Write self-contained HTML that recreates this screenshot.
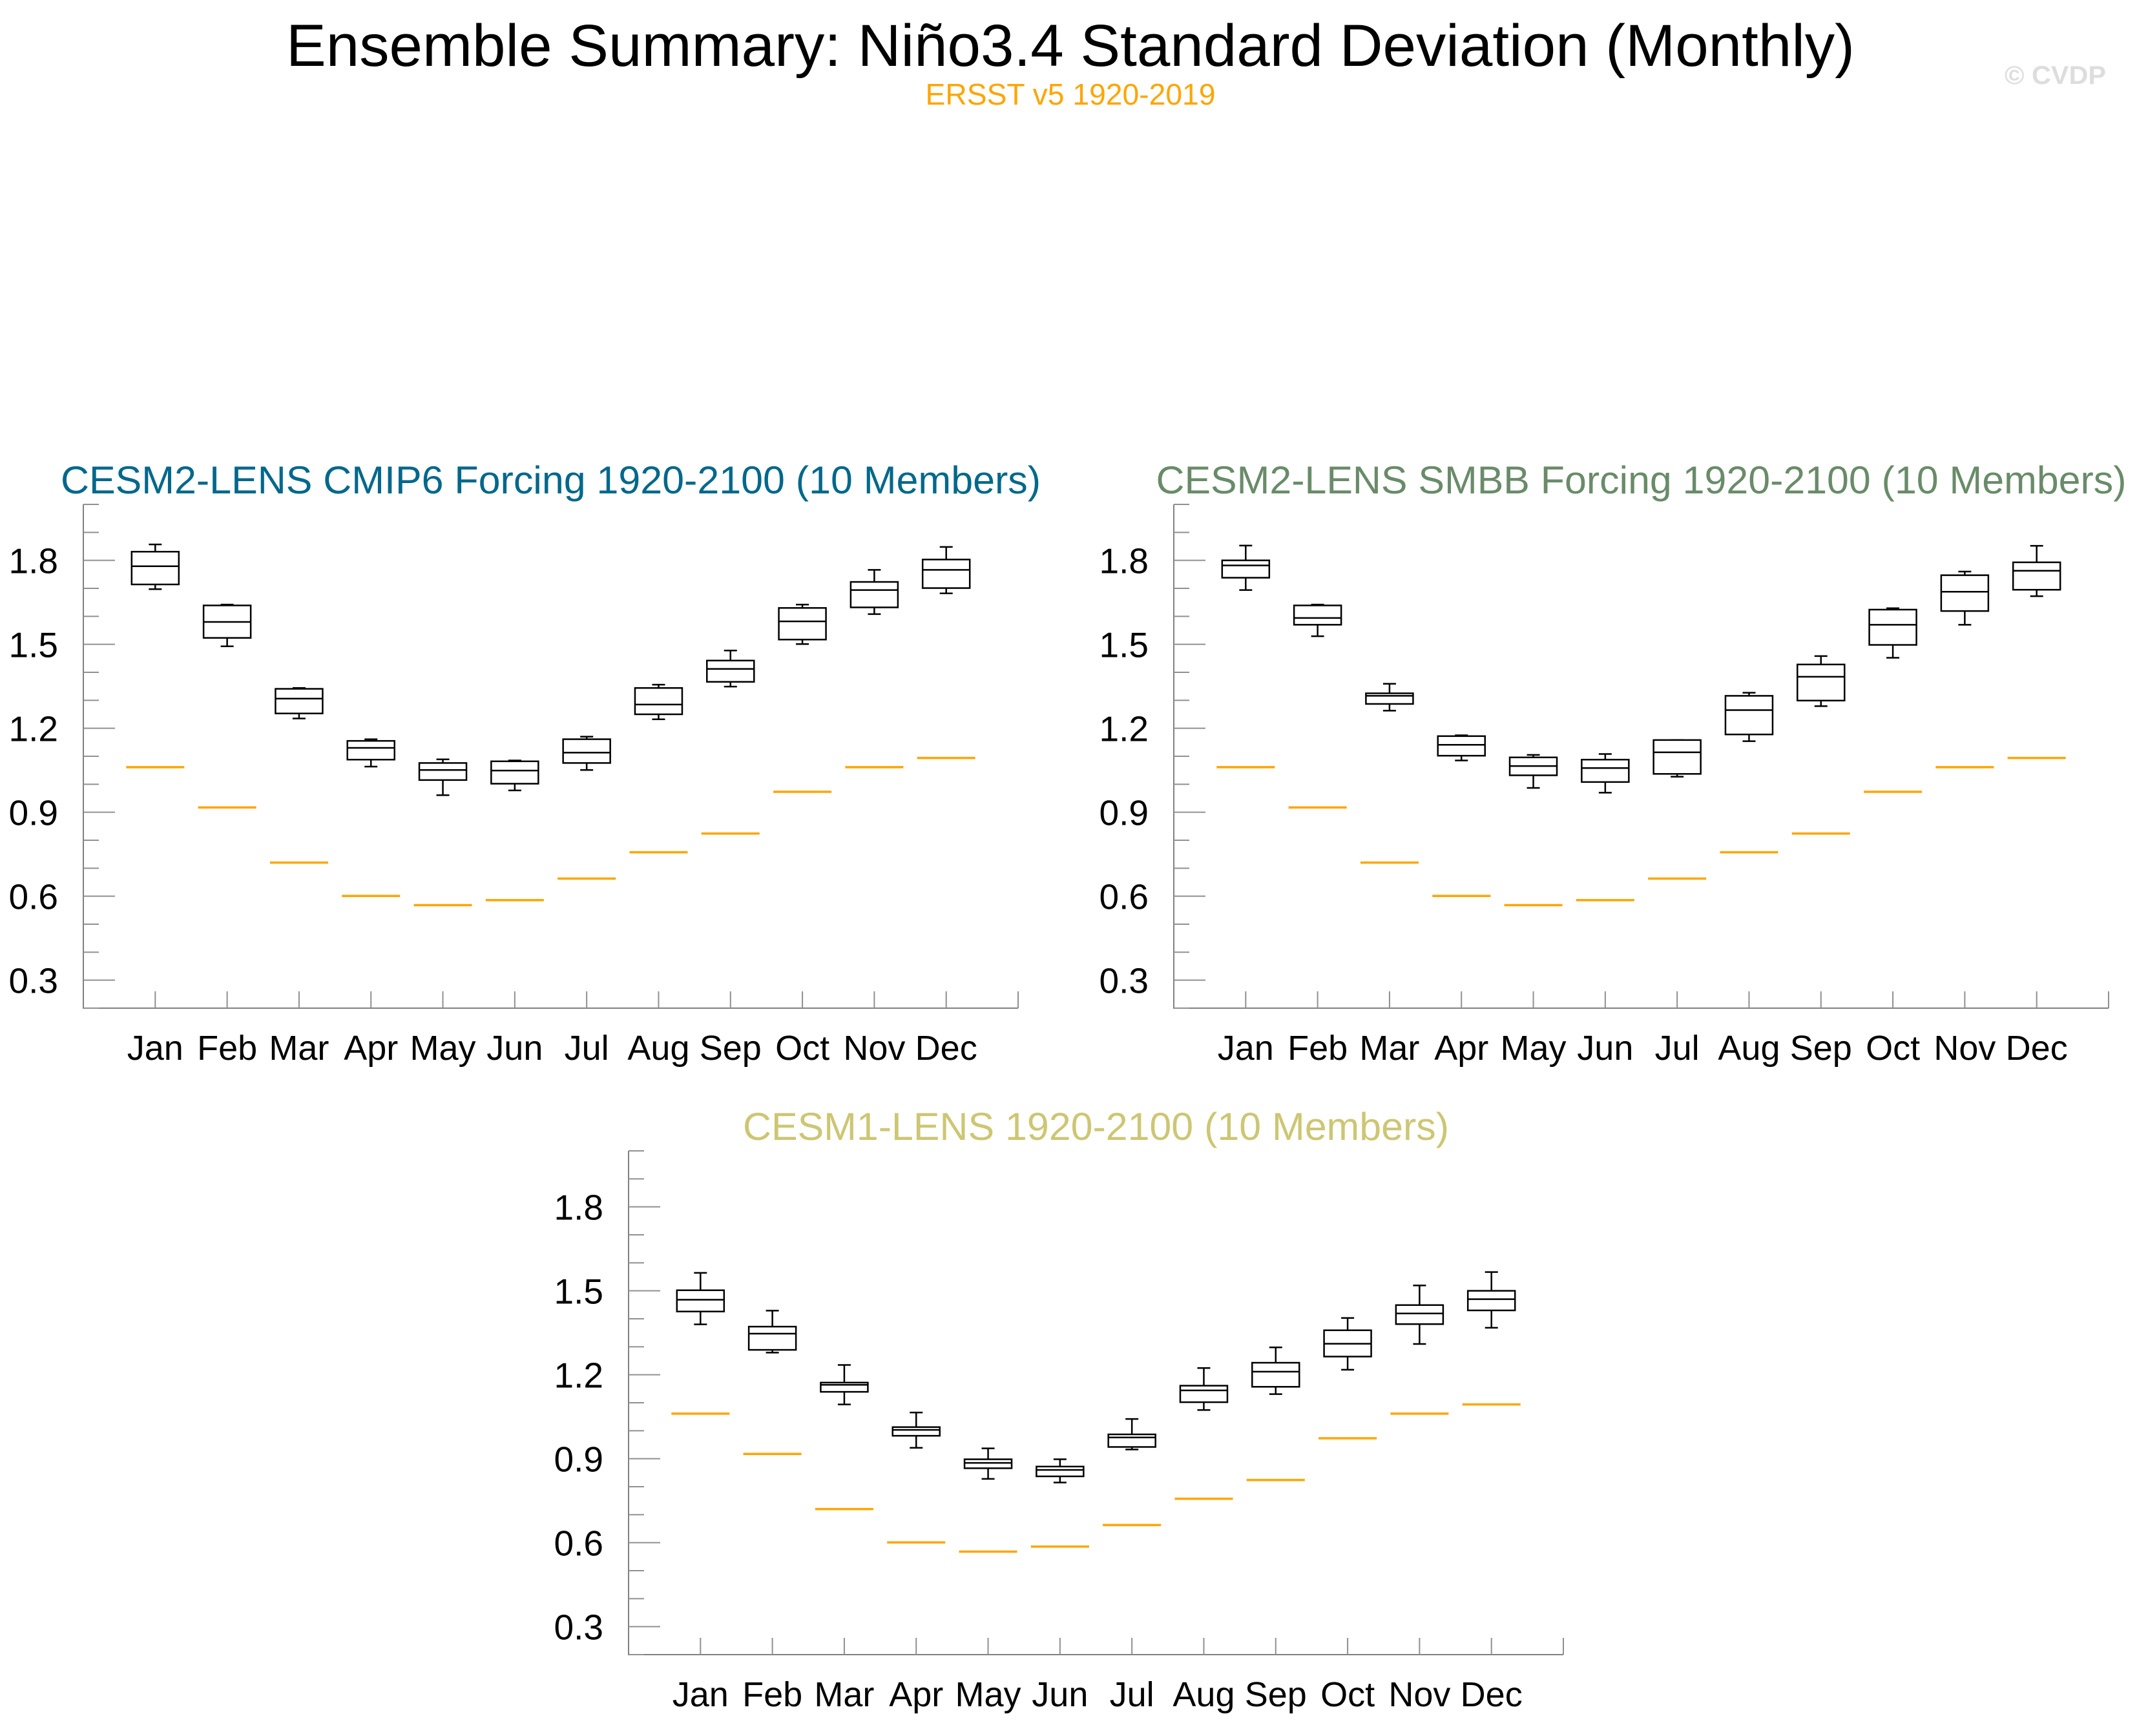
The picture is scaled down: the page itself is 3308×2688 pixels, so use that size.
<!DOCTYPE html>
<html><head><meta charset="utf-8"><style>
html,body{margin:0;padding:0;background:#fff;}
svg{display:block;font-family:"Liberation Sans",sans-serif;}
</style></head><body>
<svg id="fig" width="3308" height="2688" viewBox="0 0 3308 2688" xmlns="http://www.w3.org/2000/svg">
<text x="1657" y="102" font-size="92" text-anchor="middle" textLength="2428" lengthAdjust="spacingAndGlyphs" fill="#000">Ensemble Summary: Niño3.4 Standard Deviation (Monthly)</text>
<text x="1657" y="162" font-size="46" text-anchor="middle" textLength="449" lengthAdjust="spacingAndGlyphs" fill="#FFA500">ERSST v5 1920-2019</text>
<text x="3260" y="130" font-size="40" font-weight="bold" text-anchor="end" textLength="157" lengthAdjust="spacingAndGlyphs" fill="#dddddd">© CVDP</text>
</svg>
<script>
const months = ["Jan","Feb","Mar","Apr","May","Jun","Jul","Aug","Sep","Oct","Nov","Dec"];
const yTicks = [0.3,0.6,0.9,1.2,1.5,1.8];
const yTickLabels = ["0.3","0.6","0.9","1.2","1.5","1.8"];
const obsValues = [1.061,0.917,0.720,0.601,0.568,0.586,0.663,0.757,0.824,0.973,1.061,1.094];
const cmip6Max = [1.857,1.642,1.344,1.161,1.089,1.085,1.170,1.356,1.478,1.642,1.766,1.848];
const cmip6Q3  = [1.831,1.639,1.341,1.155,1.076,1.082,1.161,1.344,1.442,1.630,1.723,1.803];
const cmip6Med = [1.779,1.580,1.306,1.130,1.051,1.049,1.113,1.285,1.412,1.582,1.694,1.766];
const cmip6Q1  = [1.714,1.523,1.253,1.088,1.015,1.002,1.076,1.250,1.366,1.517,1.632,1.701];
const cmip6Min = [1.697,1.493,1.235,1.063,0.961,0.978,1.051,1.232,1.349,1.501,1.608,1.682];
const smbbMax = [1.853,1.642,1.359,1.175,1.105,1.108,1.158,1.327,1.458,1.629,1.760,1.852];
const smbbQ3  = [1.800,1.639,1.325,1.172,1.096,1.088,1.158,1.316,1.428,1.624,1.747,1.793];
const smbbMed = [1.782,1.594,1.316,1.141,1.065,1.058,1.114,1.265,1.384,1.570,1.688,1.763];
const smbbQ1  = [1.738,1.570,1.287,1.102,1.032,1.008,1.037,1.178,1.299,1.498,1.619,1.695];
const smbbMin = [1.694,1.529,1.263,1.085,0.987,0.970,1.027,1.154,1.279,1.452,1.570,1.672];
const cesm1Max = [1.564,1.429,1.235,1.065,0.937,0.898,1.042,1.224,1.298,1.403,1.519,1.567];
const cesm1Q3  = [1.502,1.372,1.172,1.013,0.898,0.872,0.987,1.161,1.243,1.359,1.449,1.500];
const cesm1Med = [1.468,1.347,1.164,1.003,0.885,0.860,0.976,1.144,1.211,1.311,1.419,1.470];
const cesm1Q1  = [1.426,1.289,1.139,0.982,0.866,0.837,0.942,1.102,1.157,1.265,1.381,1.430];
const cesm1Min = [1.380,1.279,1.094,0.939,0.828,0.815,0.933,1.074,1.131,1.218,1.310,1.368];

const NS = "http://www.w3.org/2000/svg";
const svg = document.getElementById("fig");
function mk(tag, attrs, parent) {
  const e = document.createElementNS(NS, tag);
  for (const k in attrs) e.setAttribute(k, attrs[k]);
  (parent || svg).appendChild(e);
  return e;
}
const W = 1447, H = 780, YMIN = 0.2, YMAX = 2.0, XMAX = 13;

function drawPanel(id, L, T, title, color, titleLen, mx, q3, med, q1, mn) {
  const g = mk("g", {});
  
  
  const xs = v => L + v / XMAX * W;
  const ys = v => T + H - (v - YMIN) / (YMAX - YMIN) * H;
  const t = mk("text", {x: L + W / 2, y: T - 17, "font-size": 60, "text-anchor": "middle", fill: color, textLength: titleLen, lengthAdjust: "spacingAndGlyphs"}, g);
  t.textContent = title;
  
  
  const ax = mk("path", {d: `M${L},${T}V${T + H}H${L + W}`, stroke: "#808080", "stroke-width": 2, fill: "none"}, g);
  
  
  for (let i = 2; i <= 20; i++) {
    const v = i / 10;
    const major = yTicks.some(m => Math.abs(m - v) < 1e-6);
    const tk = mk("line", {x1: L, x2: L + (major ? 49 : 24), y1: ys(v), y2: ys(v), stroke: "#909090", "stroke-width": 2}, g);
    
    
  }
  yTicks.forEach((v, i) => {
    const lb = mk("text", {x: L - 39, y: ys(v) + 20, "font-size": 55, "text-anchor": "end", fill: "#000"}, g);
    lb.textContent = yTickLabels[i];
    
    
  });
  for (let i = 1; i <= 13; i++) {
    const tk = mk("line", {x1: xs(i), x2: xs(i), y1: T + H, y2: T + H - 26, stroke: "#909090", "stroke-width": 2}, g);
    
    
  }
  months.forEach((m, i) => {
    const x = xs(i + 1);
    const lb = mk("text", {x: x, y: T + H + 80, "font-size": 54, "text-anchor": "middle", fill: "#000"}, g);
    lb.textContent = m;
    
    
    const ob = mk("line", {x1: x - 45, x2: x + 45, y1: ys(obsValues[i]), y2: ys(obsValues[i]), stroke: "#FFA500", "stroke-width": 3.5}, g);
    
    
    const bx = mk("g", {stroke: "#000", "stroke-width": 2.5, fill: "none"}, g);
    
    
    mk("line", {x1: x, x2: x, y1: ys(mx[i]), y2: ys(q3[i])}, bx);
    mk("line", {x1: x, x2: x, y1: ys(q1[i]), y2: ys(mn[i])}, bx);
    mk("line", {x1: x - 10, x2: x + 10, y1: ys(mx[i]), y2: ys(mx[i])}, bx);
    mk("line", {x1: x - 10, x2: x + 10, y1: ys(mn[i]), y2: ys(mn[i])}, bx);
    mk("rect", {x: x - 36.5, y: ys(q3[i]), width: 73, height: ys(q1[i]) - ys(q3[i]), fill: "#fff"}, bx);
    mk("line", {x1: x - 36.5, x2: x + 36.5, y1: ys(med[i]), y2: ys(med[i])}, bx);
  });
}
drawPanel("cmip6", 129, 781, "CESM2-LENS CMIP6 Forcing 1920-2100 (10 Members)", "#00688B", 1517, cmip6Max, cmip6Q3, cmip6Med, cmip6Q1, cmip6Min);
drawPanel("smbb", 1817, 781, "CESM2-LENS SMBB Forcing 1920-2100 (10 Members)", "#698B69", 1502, smbbMax, smbbQ3, smbbMed, smbbQ1, smbbMin);
drawPanel("cesm1", 973, 1782, "CESM1-LENS 1920-2100 (10 Members)", "#CDC673", 1093, cesm1Max, cesm1Q3, cesm1Med, cesm1Q1, cesm1Min);
</script>
</body></html>
